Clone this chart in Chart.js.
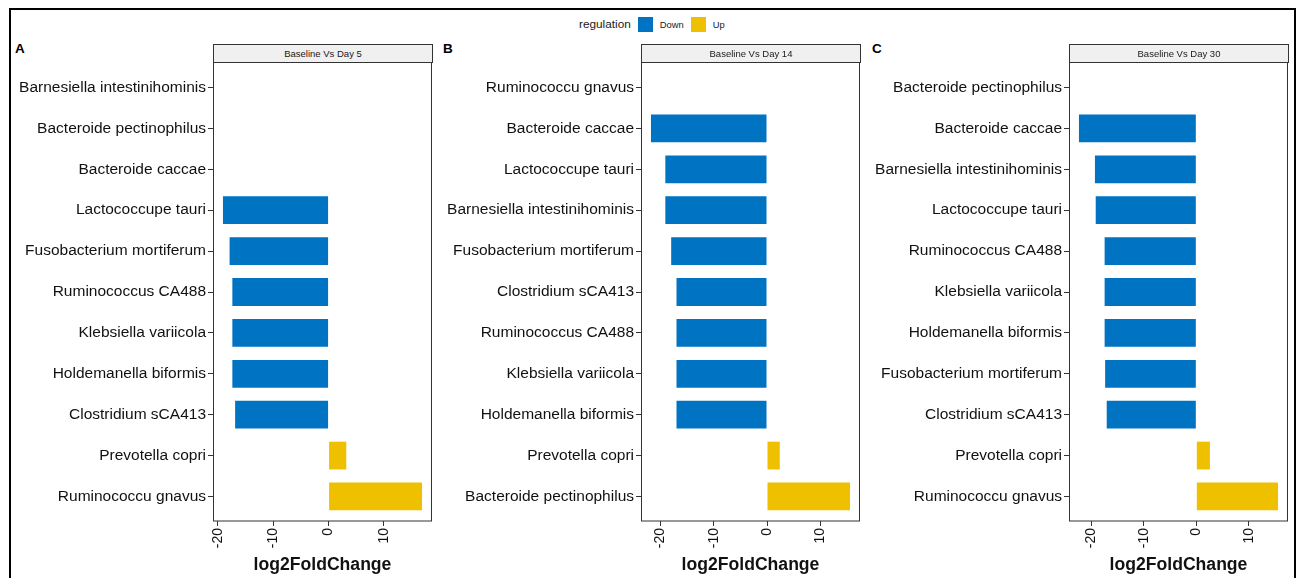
<!DOCTYPE html>
<html>
<head>
<meta charset="utf-8">
<script src="https://cdn.jsdelivr.net/npm/chart.js@4/dist/chart.umd.min.js"></script>
<style>
  html, body { margin: 0; padding: 0; background: #fff; }
  body { width: 1299px; height: 578px; position: relative; overflow: hidden; font-family: "Liberation Sans", Arial, sans-serif; }
  .frame { position: absolute; left: 9px; top: 8px; width: 1287px; height: 600px; border: 2px solid #000; box-sizing: border-box; }
  .cv { position: absolute; top: 0; }
  .strip { position: absolute; top: 44px; height: 19px; background: #F0F0F0; border: 1px solid #333; box-sizing: border-box; font-size: 9.5px; color: #1a1a1a; text-align: center; line-height: 17px; }
  .letter { position: absolute; top: 41px; font-weight: bold; font-size: 13.5px; color: #000; }
  .legend { position: absolute; top: 16px; left: 579px; height: 16px; display: flex; align-items: center; font-size: 9.4px; color: #1a1a1a; }
  .legend .ttl { font-size: 11.8px; margin-right: 7px; }
  .legend .sw { width: 15px; height: 15px; display: inline-block; margin-right: 7px; }
  .legend .lb { margin-right: 7px; }
</style>
</head>
<body>
<div class="frame"></div>
<div class="legend"><span class="ttl">regulation</span><span class="sw" style="background:#0073C2"></span><span class="lb">Down</span><span class="sw" style="background:#EFC000"></span><span class="lb">Up</span></div>
<div class="letter" style="left:15px">A</div>
<div class="letter" style="left:443px">B</div>
<div class="letter" style="left:872px">C</div>
<canvas id="cA" class="cv"></canvas>
<canvas id="cB" class="cv"></canvas>
<canvas id="cC" class="cv"></canvas>
<script>
// ---- data ----
const stripTitles = ['Baseline Vs Day 5', 'Baseline Vs Day 14', 'Baseline Vs Day 30'];
const xTicks = [-20, -10, 0, 10];
const axisTitle = 'log2FoldChange';

const catsA = ['Barnesiella intestinihominis','Bacteroide pectinophilus','Bacteroide caccae','Lactococcupe tauri','Fusobacterium mortiferum','Ruminococcus CA488','Klebsiella variicola','Holdemanella biformis','Clostridium sCA413','Prevotella copri','Ruminococcu gnavus'];
const valsA = [null, null, null, -19.1, -17.9, -17.4, -17.4, -17.4, -16.9, 3.2, 16.9];

const catsB = ['Ruminococcu gnavus','Bacteroide caccae','Lactococcupe tauri','Barnesiella intestinihominis','Fusobacterium mortiferum','Clostridium sCA413','Ruminococcus CA488','Klebsiella variicola','Holdemanella biformis','Prevotella copri','Bacteroide pectinophilus'];
const valsB = [null, -21.8, -19.1, -19.1, -18.0, -17.0, -17.0, -17.0, -17.0, 2.4, 15.6];

const catsC = ['Bacteroide pectinophilus','Bacteroide caccae','Barnesiella intestinihominis','Lactococcupe tauri','Ruminococcus CA488','Klebsiella variicola','Holdemanella biformis','Fusobacterium mortiferum','Clostridium sCA413','Prevotella copri','Ruminococcu gnavus'];
const valsC = [null, -22.4, -19.35, -19.2, -17.5, -17.5, -17.5, -17.4, -17.1, 2.6, 15.6];

// ---- layout ----
const COL_DOWN = '#0073C2', COL_UP = '#EFC000';
const FONT = '"Liberation Sans", Arial, sans-serif';
const H = 578;
const panels = [
  { id: 'cA', cats: catsA, vals: valsA, strip: stripTitles[0], canvasLeft: 0,   canvasW: 440, plotLeft: 213,  plotRight: 432 },
  { id: 'cB', cats: catsB, vals: valsB, strip: stripTitles[1], canvasLeft: 430, canvasW: 440, plotLeft: 641,  plotRight: 860 },
  { id: 'cC', cats: catsC, vals: valsC, strip: stripTitles[2], canvasLeft: 860, canvasW: 439, plotLeft: 1069, plotRight: 1288 }
];
const PLOT_TOP = 63, PLOT_BOTTOM = 521;

const borderPlugin = {
  id: 'panelBorder',
  afterDatasetsDraw(chart) {
    const a = chart.chartArea, ctx = chart.ctx;
    ctx.save();
    ctx.strokeStyle = '#333';
    ctx.lineWidth = 1;
    ctx.strokeRect(Math.round(a.left) + 0.5, Math.round(a.top) - 0.5, Math.round(a.right - a.left) - 1, Math.round(a.bottom - a.top) + 0.5);
    ctx.restore();
  }
};

panels.forEach(p => {
  const cv = document.getElementById(p.id);
  cv.style.left = p.canvasLeft + 'px';
  cv.width = p.canvasW; cv.height = H;
  cv.style.width = p.canvasW + 'px'; cv.style.height = H + 'px';

  // strip header as HTML text
  const s = document.createElement('div');
  s.className = 'strip';
  s.style.left = p.plotLeft + 'px';
  s.style.width = (p.plotRight - p.plotLeft + 1) + 'px';
  s.textContent = p.strip;
  document.body.appendChild(s);

  const present = p.vals.filter(v => v !== null);
  const dmin = Math.min(0, ...present), dmax = Math.max(0, ...present);
  const ex = 0.05 * (dmax - dmin);

  const data = p.vals.map((v, i) => ({ x: v, y: i }));
  const yWidth = p.plotLeft - p.canvasLeft;
  const padRight = p.canvasLeft + p.canvasW - p.plotRight;

  new Chart(cv, {
    type: 'bar',
    data: {
      datasets: [{
        data: data,
        backgroundColor: ctx => (ctx.raw && ctx.raw.x < 0) ? COL_DOWN : COL_UP,
        borderWidth: 0,
        barPercentage: 0.68,
        categoryPercentage: 1
      }]
    },
    options: {
      indexAxis: 'y',
      responsive: false,
      animation: false,
      devicePixelRatio: 1,
      layout: { padding: { top: PLOT_TOP, right: padRight, bottom: 2, left: 0 } },
      plugins: { legend: { display: false }, tooltip: { enabled: false } },
      scales: {
        y: {
          type: 'linear',
          reverse: true,
          min: -0.6,
          max: p.cats.length - 1 + 0.6,
          offset: false,
          border: { display: false },
          grid: { display: true, drawOnChartArea: false, drawTicks: true, tickLength: 5, color: '#333', offset: false },
          ticks: {
            padding: 2,
            color: '#111',
            font: { family: FONT, size: 15.5 },
            callback: v => p.cats[v]
          },
          afterBuildTicks: sc => { sc.ticks = p.cats.map((c, i) => ({ value: i })); },
          afterFit: sc => { sc.width = yWidth; }
        },
        x: {
          type: 'linear',
          min: dmin - ex,
          max: dmax + ex,
          border: { display: false },
          grid: { display: true, drawOnChartArea: false, drawTicks: true, tickLength: 5, color: '#333' },
          ticks: {
            padding: 2,
            autoSkip: false,
            minRotation: 90,
            maxRotation: 90,
            color: '#111',
            font: { family: FONT, size: 14 }
          },
          afterBuildTicks: sc => { sc.ticks = xTicks.map(v => ({ value: v })); },
          afterFit: sc => { sc.height = H - 2 - PLOT_BOTTOM; },
          title: {
            display: true,
            text: axisTitle,
            color: '#111',
            font: { family: FONT, size: 17.6, weight: 'bold' },
            padding: 0
          }
        }
      }
    },
    plugins: [borderPlugin]
  });
});
</script>
</body>
</html>
